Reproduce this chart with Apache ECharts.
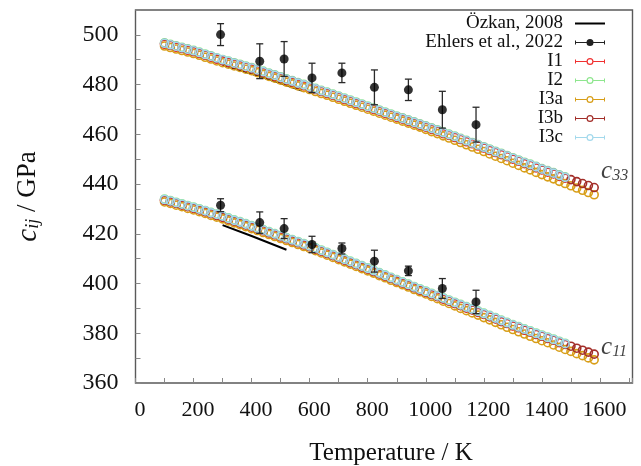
<!DOCTYPE html>
<html>
<head>
<meta charset="utf-8">
<script src="https://cdn.jsdelivr.net/npm/echarts@6/dist/echarts.min.js"></script>
<style>
html, body { margin: 0; padding: 0; background: #fff; }
#chart { width: 641px; height: 466px; }
</style>
</head>
<body>
<div id="chart"></div>
<script>
// Temperature grid of the simulation runs (K)
const temps = [100,120,140,160,180,200,220,240,260,280,300,320,340,360,380,400,420,440,460,480,
  500,520,540,560,580,600,620,640,660,680,700,720,740,760,780,800,820,840,860,880,
  900,920,940,960,980,1000,1020,1040,1060,1080,1100,1120,1140,1160,1180,1200,1220,1240,1260,1280,
  1300,1320,1340,1360,1380,1400,1420,1440,1460,1480,1500,1520,1540,1560,1580];

// c33 (GPa) per simulation set
const i1C33 = [496.2,495.7,495.0,494.5,493.8,493.2,492.5,491.8,491.0,490.2,
  489.5,488.9,488.3,487.6,487.0,486.3,485.6,484.8,484.1,483.3,
  482.6,481.8,481.0,480.3,479.5,478.8,478.0,477.2,476.4,475.7,
  474.9,474.0,473.3,472.4,471.7,470.9,470.0,469.3,468.4,467.7,
  466.8,466.1,465.2,464.5,463.6,462.9,462.0,461.3,460.3,459.6,
  458.7,457.9,457.0,456.2,455.3,454.5,453.5,452.7,451.8,451.0,
  450.0,449.2,448.2,447.5,446.5,445.7,444.8,444.1,443.1,442.4];
const i2C33 = [496.8,496.2,495.6,495.0,494.4,493.8,493.1,492.3,491.6,490.8,
  490.1,489.5,488.8,488.2,487.5,486.9,486.1,485.4,484.6,483.9,
  483.1,482.3,481.6,480.8,480.1,479.3,478.5,477.7,477.0,476.2,
  475.4,474.6,473.8,473.0,472.2,471.4,470.6,469.8,469.0,468.2,
  467.4,466.6,465.8,465.0,464.2,463.4,462.6,461.8,460.9,460.1,
  459.3,458.4,457.6,456.7,455.9,455.0,454.1,453.2,452.4,451.5,
  450.6,449.7,448.8,448.0,447.1,446.2,445.4,444.6,443.7,442.9];
const i3aC33 = [495.5,494.9,494.3,493.7,493.1,492.5,491.8,491.0,490.3,489.5,
  488.8,488.2,487.5,486.9,486.2,485.6,484.8,484.1,483.3,482.6,
  481.8,481.0,480.3,479.5,478.8,478.0,477.2,476.4,475.7,474.9,
  474.1,473.3,472.5,471.7,470.9,470.1,469.3,468.5,467.7,466.9,
  466.1,465.3,464.5,463.7,462.9,462.0,461.1,460.3,459.4,458.5,
  457.6,456.7,455.8,454.9,454.0,453.1,452.1,451.2,450.3,449.4,
  448.4,447.5,446.5,445.7,444.7,443.8,442.9,442.1,441.1,440.2,
  439.3,438.4,437.5,436.6,435.7];
const i3bC33 = [496.5,495.9,495.3,494.7,494.1,493.5,492.8,492.0,491.3,490.5,
  489.8,489.2,488.5,487.9,487.2,486.6,485.8,485.1,484.3,483.6,
  482.8,482.0,481.3,480.5,479.8,479.0,478.2,477.4,476.7,475.9,
  475.1,474.3,473.5,472.7,471.9,471.1,470.3,469.5,468.7,467.9,
  467.1,466.3,465.5,464.7,463.9,463.1,462.3,461.5,460.6,459.8,
  459.0,458.1,457.3,456.4,455.6,454.7,453.8,452.9,452.1,451.2,
  450.3,449.4,448.5,447.7,446.8,445.9,445.1,444.3,443.4,442.6,
  441.8,441.0,440.2,439.4,438.6];
const i3cC33 = [496.6,496.0,495.4,494.8,494.2,493.6,492.9,492.1,491.4,490.7,
  490.0,489.4,488.6,488.0,487.3,486.7,485.9,485.2,484.4,483.7,
  482.9,482.1,481.4,480.6,479.9,479.1,478.3,477.5,476.8,476.0,
  475.2,474.4,473.6,472.8,472.0,471.2,470.4,469.6,468.8,468.0,
  467.2,466.4,465.6,464.8,464.0,463.2,462.4,461.6,460.7,459.9,
  459.1,458.2,457.4,456.5,455.7,454.8,453.9,453.0,452.2,451.3,
  450.4,449.5,448.6,447.8,446.9,446.0,445.2,444.4,443.5,442.7];

// c11 (GPa) per simulation set
const i1C11 = [433.4,432.8,432.2,431.5,430.9,430.2,429.6,428.8,428.1,427.3,
  426.6,425.9,425.1,424.3,423.6,422.8,421.9,421.2,420.3,419.6,
  418.7,418.0,417.1,416.4,415.5,414.8,413.8,413.0,412.0,411.2,
  410.2,409.4,408.4,407.6,406.6,405.8,404.8,403.9,402.9,402.0,
  401.0,400.2,399.2,398.3,397.3,396.5,395.5,394.7,393.7,392.9,
  391.9,391.1,390.1,389.4,388.4,387.6,386.6,385.8,384.7,383.9,
  382.9,382.2,381.2,380.5,379.5,378.8,377.9,377.2,376.2,375.5];
const i2C11 = [434.0,433.4,432.7,432.1,431.4,430.8,430.1,429.4,428.6,427.9,
  427.2,426.4,425.6,424.9,424.1,423.3,422.5,421.7,420.9,420.1,
  419.3,418.5,417.7,416.9,416.1,415.3,414.4,413.5,412.6,411.7,
  410.8,409.9,409.0,408.1,407.2,406.3,405.4,404.4,403.5,402.5,
  401.6,400.7,399.8,398.8,397.9,397.0,396.1,395.2,394.3,393.4,
  392.5,391.6,390.7,389.9,389.0,388.1,387.2,386.3,385.3,384.4,
  383.5,382.7,381.8,381.0,380.1,379.3,378.5,377.7,376.8,376.0];
const i3aC11 = [432.8,432.2,431.5,430.9,430.2,429.6,428.9,428.2,427.4,426.7,
  426.0,425.2,424.4,423.7,422.9,422.1,421.3,420.5,419.7,418.9,
  418.1,417.3,416.5,415.7,414.9,414.1,413.2,412.3,411.4,410.5,
  409.6,408.7,407.8,406.9,406.0,405.1,404.2,403.2,402.3,401.3,
  400.4,399.5,398.6,397.6,396.7,395.8,394.8,393.9,392.9,392.0,
  391.0,390.0,389.1,388.2,387.3,386.3,385.4,384.4,383.4,382.4,
  381.5,380.6,379.7,378.8,377.9,377.0,376.2,375.3,374.4,373.5,
  372.7,371.8,371.0,370.1,369.3];
const i3bC11 = [433.6,433.0,432.3,431.7,431.0,430.4,429.7,429.0,428.2,427.5,
  426.8,426.0,425.2,424.5,423.7,422.9,422.1,421.3,420.5,419.7,
  418.9,418.1,417.3,416.5,415.7,414.9,414.0,413.1,412.2,411.3,
  410.4,409.5,408.6,407.7,406.8,405.9,405.0,404.0,403.1,402.1,
  401.2,400.3,399.4,398.4,397.5,396.6,395.7,394.8,393.9,393.0,
  392.1,391.2,390.3,389.5,388.6,387.7,386.8,385.9,384.9,384.0,
  383.1,382.3,381.4,380.6,379.7,378.9,378.1,377.3,376.4,375.6,
  374.8,374.0,373.2,372.4,371.6];
const i3cC11 = [433.8,433.2,432.5,431.9,431.2,430.6,429.9,429.2,428.4,427.8,
  427.1,426.2,425.4,424.7,423.9,423.1,422.3,421.5,420.7,419.9,
  419.1,418.3,417.5,416.7,415.9,415.1,414.2,413.3,412.4,411.5,
  410.6,409.7,408.8,407.9,407.0,406.1,405.2,404.2,403.3,402.3,
  401.4,400.5,399.6,398.6,397.7,396.8,395.9,395.0,394.1,393.2,
  392.3,391.4,390.5,389.7,388.8,387.9,387.0,386.1,385.1,384.2,
  383.3,382.5,381.6,380.8,379.9,379.1,378.3,377.5,376.6,375.8];

// Experimental data, Ehlers et al. 2022
const ehlersT = [293, 428, 512, 608, 711, 823, 940, 1057, 1173];
const ehlersC33 = [500.1, 489.4, 490.3, 482.7, 484.7, 478.9, 477.9, 469.9, 463.9];
const ehlersC33Err = [4.4, 7.0, 7.0, 5.9, 3.9, 7.0, 4.3, 7.4, 7.0];
const ehlersC11 = [431.5, 424.5, 422.1, 415.7, 414.1, 409.0, 405.1, 398.0, 392.6];
const ehlersC11Err = [2.6, 4.3, 4.0, 3.3, 2.2, 4.4, 1.9, 4.0, 4.7];

// Özkan 2008
const ozkanT33 = [300, 400, 500, 573];
const ozkanC33 = [488.0, 484.3, 480.5, 477.6];
const ozkanT11 = [300, 400, 520];
const ozkanC11 = [423.5, 419.1, 413.6];

// Branch labels
const branchLabels = [
  { value: [1602, 445.1], name: '33' },
  { value: [1602, 374.5], name: '11' }
];

const SERIF = '"Liberation Serif", "DejaVu Serif", "Times New Roman", serif';

const simSets = [
  { name: 'I1',  color: '#f03030', c33: i1C33,  c11: i1C11 },
  { name: 'I2',  color: '#8ee68e', c33: i2C33,  c11: i2C11 },
  { name: 'I3a', color: '#d89e18', c33: i3aC33, c11: i3aC11 },
  { name: 'I3b', color: '#a32e29', c33: i3bC33, c11: i3bC11 },
  { name: 'I3c', color: '#a3d9ec', c33: i3cC33, c11: i3cC11 }
];

function toPairs(xs, ys) { return ys.map((v, i) => [xs[i], v]); }

// Legend icons in a 30x7 box: error-bar line with caps and a ring / filled dot
const ringIcon = 'path://M0,3 L11.5,3 L11.5,4 L0,4 Z M0,1.5 L1,1.5 L1,5.5 L0,5.5 Z ' +
  'M18.5,3 L30,3 L30,4 L18.5,4 Z M29,1.5 L30,1.5 L30,5.5 L29,5.5 Z ' +
  'M11.5,3.5 A3.5,3.5 0 1,1 18.5,3.5 A3.5,3.5 0 1,1 11.5,3.5 Z ' +
  'M12.7,3.5 A2.3,2.3 0 1,0 17.3,3.5 A2.3,2.3 0 1,0 12.7,3.5 Z';
const dotIcon = 'path://M0,3 L30,3 L30,4 L0,4 Z M0,1.5 L1,1.5 L1,5.5 L0,5.5 Z ' +
  'M29,1.5 L30,1.5 L30,5.5 L29,5.5 Z ' +
  'M11.5,3.5 A3.5,3.5 0 1,1 18.5,3.5 A3.5,3.5 0 1,1 11.5,3.5 Z';

const series = [];

series.push({
  type: 'line', name: 'Özkan, 2008', data: toPairs(ozkanT33, ozkanC33),
  symbol: 'none', lineStyle: { color: '#000', width: 2 }, itemStyle: { color: '#000' }, z: 1
});
series.push({
  type: 'line', name: 'Özkan, 2008', data: toPairs(ozkanT11, ozkanC11),
  symbol: 'none', lineStyle: { color: '#000', width: 2 }, itemStyle: { color: '#000' }, z: 1
});

simSets.forEach(s => {
  series.push({
    type: 'scatter', name: s.name,
    data: toPairs(temps, s.c33).concat(toPairs(temps, s.c11)),
    symbol: 'circle', symbolSize: 8,
    itemStyle: { color: 'rgba(255,255,255,0)', borderColor: s.color, borderWidth: 1.6, opacity: 1 },
    z: 2
  });
});

const ehlersBars = ehlersT.map((t, i) => [t, ehlersC33[i], ehlersC33Err[i]])
  .concat(ehlersT.map((t, i) => [t, ehlersC11[i], ehlersC11Err[i]]));

series.push({
  type: 'custom', name: 'Ehlers et al., 2022', data: ehlersBars,
  encode: { x: 0, y: 1 }, z: 3,
  renderItem: function (params, api) {
    const x = api.value(0), v = api.value(1), e = api.value(2);
    const top = api.coord([x, v + e]);
    const bot = api.coord([x, v - e]);
    const w = 3.5;
    const st = { stroke: '#2a2a2a', lineWidth: 1.3 };
    return {
      type: 'group',
      children: [
        { type: 'line', shape: { x1: top[0], y1: top[1], x2: bot[0], y2: bot[1] }, style: st },
        { type: 'line', shape: { x1: top[0] - w, y1: top[1], x2: top[0] + w, y2: top[1] }, style: st },
        { type: 'line', shape: { x1: bot[0] - w, y1: bot[1], x2: bot[0] + w, y2: bot[1] }, style: st }
      ]
    };
  }
});
series.push({
  type: 'scatter', name: 'Ehlers et al., 2022',
  data: toPairs(ehlersT, ehlersC33).concat(toPairs(ehlersT, ehlersC11)),
  symbol: 'circle', symbolSize: 9, itemStyle: { color: '#000' }, z: 4
});

series.push({
  type: 'scatter', name: 'branch', data: branchLabels,
  symbolSize: 1, itemStyle: { color: 'rgba(0,0,0,0)' }, silent: true, z: 5,
  label: {
    show: true, position: 'right', distance: 0,
    formatter: p => '{c|c}{s|' + p.name + '}',
    rich: {
      c: { fontFamily: SERIF, fontStyle: 'italic', fontSize: 25, lineHeight: 25, color: '#111' },
      s: { fontFamily: SERIF, fontStyle: 'italic', fontSize: 16, lineHeight: 5, verticalAlign: 'bottom', color: '#111' }
    }
  }
});

const chart = echarts.init(document.getElementById('chart'), null, { renderer: 'canvas' });

chart.setOption({
  animation: false,
  backgroundColor: '#fff',
  grid: {
    left: 135.5, right: 8.5, top: 10, bottom: 83,
    show: true, borderColor: '#5a5a5a', borderWidth: 1.4,
    containLabel: false, outerBoundsMode: 'none'
  },
  xAxis: {
    type: 'value', min: 0, max: 1712, interval: 100,
    axisLine: { show: false },
    axisTick: { inside: true, length: 5, lineStyle: { color: '#888', width: 1 } },
    splitLine: { show: false },
    axisLabel: {
      formatter: v => (v % 200 === 0 && v <= 1600) ? String(v) : '',
      fontFamily: SERIF, fontSize: 22, lineHeight: 22, color: '#111', margin: 16, padding: [0, 0, 0, 9]
    },
    name: 'Temperature / K', nameLocation: 'middle', nameGap: 58,
    nameTextStyle: { fontFamily: SERIF, fontSize: 25, lineHeight: 25, color: '#111', padding: [0, 0, 0, 14] }
  },
  yAxis: {
    type: 'value', min: 360, max: 510, interval: 10,
    axisLine: { show: false },
    axisTick: { inside: true, length: 5, lineStyle: { color: '#888', width: 1 } },
    splitLine: { show: false },
    axisLabel: {
      formatter: v => (v % 20 === 0 && v <= 500) ? String(v) : '',
      fontFamily: SERIF, fontSize: 24, lineHeight: 24, color: '#111', margin: 17, padding: [4, 0, 0, 0]
    },
    name: '{c|c}{s|ij}{n| / GPa}', nameLocation: 'middle', nameGap: 93, nameRotate: 90,
    nameTextStyle: {
      rich: {
        c: { fontFamily: SERIF, fontStyle: 'italic', fontSize: 29, lineHeight: 29, color: '#111' },
        s: { fontFamily: SERIF, fontStyle: 'italic', fontSize: 18, lineHeight: 6, verticalAlign: 'bottom', color: '#111' },
        n: { fontFamily: SERIF, fontSize: 27, lineHeight: 29, color: '#111' }
      }
    }
  },
  legend: {
    orient: 'vertical', right: 35, top: 14, align: 'right',
    itemWidth: 30, itemHeight: 7, itemGap: 0, padding: 0,
    selectedMode: false,
    textStyle: { fontFamily: SERIF, fontSize: 19, lineHeight: 19, color: '#111', padding: [0, 7, 0, 0] },
    data: [
      { name: 'Özkan, 2008', itemStyle: { color: 'rgba(0,0,0,0)', borderWidth: 0 } },
      { name: 'Ehlers et al., 2022', icon: dotIcon, itemStyle: { color: '#222', borderWidth: 0 } },
      { name: 'I1', icon: ringIcon, itemStyle: { color: '#f03030', borderWidth: 0 } },
      { name: 'I2', icon: ringIcon, itemStyle: { color: '#8ee68e', borderWidth: 0 } },
      { name: 'I3a', icon: ringIcon, itemStyle: { color: '#d89e18', borderWidth: 0 } },
      { name: 'I3b', icon: ringIcon, itemStyle: { color: '#a32e29', borderWidth: 0 } },
      { name: 'I3c', icon: ringIcon, itemStyle: { color: '#a3d9ec', borderWidth: 0 } }
    ]
  },
  series: series
});
</script>
</body>
</html>
